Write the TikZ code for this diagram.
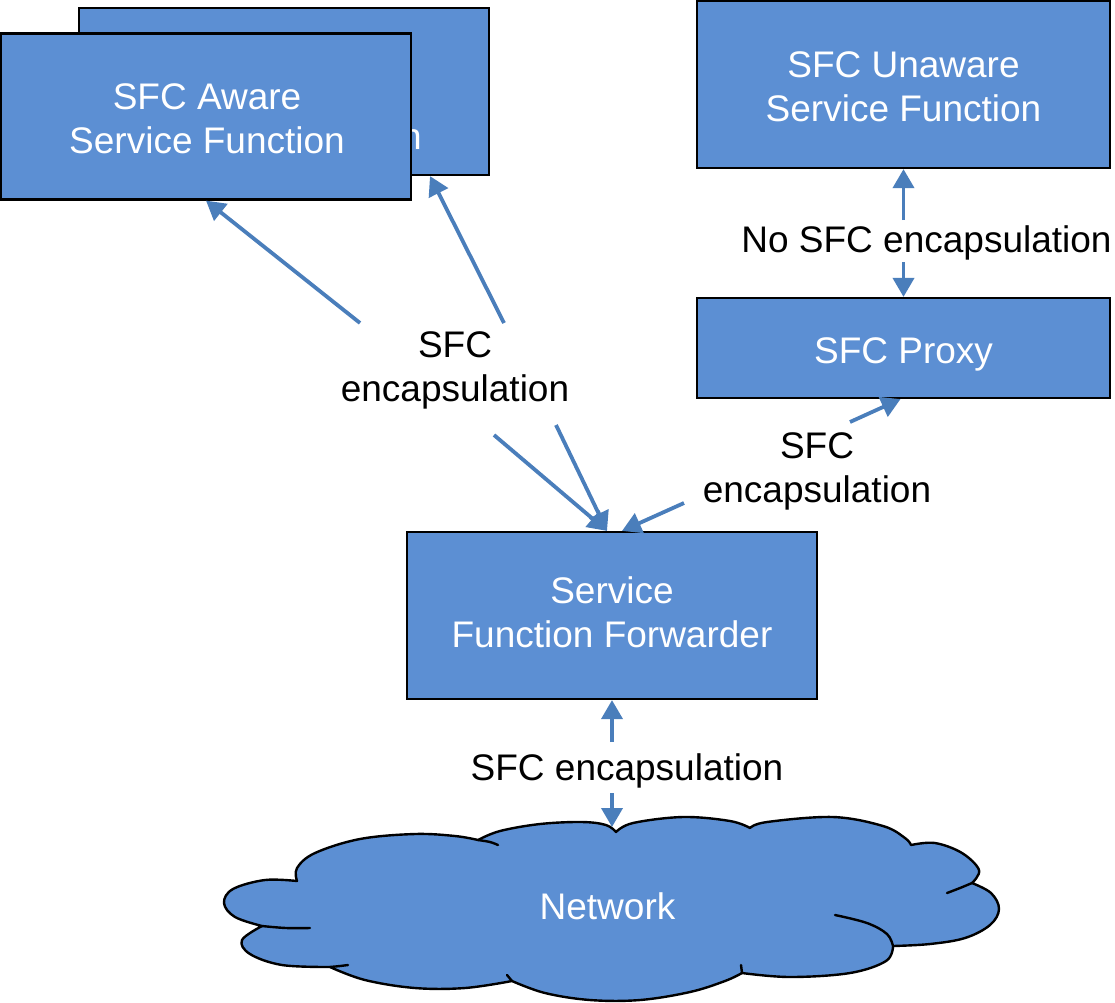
\documentclass[tikz,border=0pt]{standalone}
\usepackage{fontspec}
\setmainfont{Liberation Sans}
\usetikzlibrary{arrows.meta,calc}
\definecolor{boxblue}{RGB}{92,143,211}
\definecolor{arrowblue}{RGB}{74,126,187}
\tikzset{
  txt/.style={font=\fontsize{37}{44}\selectfont, align=center, inner sep=0pt},
  sfbox/.style={draw=black, line width=2.2pt, fill=boxblue, inner sep=0pt},
  lbl/.style={txt, text=black},
  wlbl/.style={txt, text=white},
  conn/.style={draw=arrowblue, line width=3.8pt, -{Triangle[width=21pt,length=19pt]}},
  cloudline/.style={draw=black, line width=2.4pt, line join=round, line cap=round},
}
\begin{document}
\begin{tikzpicture}[x=1pt,y=-1pt]
\useasboundingbox (0,0) rectangle (1115,1002);

% back box (partly hidden)
\node[sfbox, minimum width=410pt, minimum height=167pt] (back) at (284,91.5) {};
\node[wlbl] (backtext) at (284,115) {SFC Aware\\Service Function};
% front box
\node[sfbox, minimum width=410pt, minimum height=166pt] (front) at (206,116.5) {};
\node[wlbl] (fronttext) at (207,119) {SFC Aware\\Service Function};

% right column
\node[sfbox, minimum width=413pt, minimum height=167pt] (unaware) at (903.5,84.5) {};
\node[wlbl] (unawaretext) at (903.5,86.5) {SFC Unaware\\Service Function};
\node[sfbox, minimum width=413pt, minimum height=100pt] (proxy) at (903.5,348) {};
\node[wlbl] (proxytext) at (903.5,354) {SFC Proxy};

% forwarder
\node[sfbox, minimum width=410pt, minimum height=167pt] (sff) at (612,615.5) {};
\node[wlbl] (sfftext) at (612,612.5) {Service\\Function Forwarder};

% cloud
\path[fill=boxblue, cloudline]
  plot[smooth,tension=0.6] coordinates {(297,881) (297,868) (315,853) (360,839) (415,834) (455,836) (478,840)}
  -- plot[smooth,tension=0.6] coordinates {(478,840) (500,831) (540,824) (582,822) (606,825) (616,832)}
  -- plot[smooth,tension=0.6] coordinates {(616,832) (633,823) (683,817) (730,821) (750,828)}
  -- plot[smooth,tension=0.6] coordinates {(750,828) (767,822) (833,817) (883,826) (905,838) (911,845)}
  -- plot[smooth,tension=0.6] coordinates {(911,845) (935,843) (962,853) (979,870) (972,883)}
  -- plot[smooth,tension=0.6] coordinates {(972,883) (991,893) (999,909) (990,925) (965,938) (930,944) (893,946)}
  -- plot[smooth,tension=0.6] coordinates {(893,946) (886,961) (850,973) (790,977) (742,973)}
  -- plot[smooth,tension=0.6] coordinates {(742,973) (725,981) (690,992) (640,1000) (590,1000) (545,993) (512,981)}
  -- plot[smooth,tension=0.6] coordinates {(512,981) (465,988) (415,988) (365,980) (330,967)}
  -- plot[smooth,tension=0.6] coordinates {(330,967) (282,965) (250,954) (242,940) (262,926)}
  -- plot[smooth,tension=0.6] coordinates {(262,926) (235,917) (224,903) (233,889) (265,880) (297,881)}
  -- cycle;
% inner strokes of the cloud
\draw[cloudline] plot[smooth,tension=0.6] coordinates {(262,926) (286,928) (310,928)};
\draw[cloudline] plot[smooth,tension=0.6] coordinates {(330,967) (340,966) (348,965)};
\draw[cloudline] plot[smooth,tension=0.6] coordinates {(478,840) (490,842) (498,845)};
\draw[cloudline] plot[smooth,tension=0.6] coordinates {(507,975) (512,981)};
\draw[cloudline] plot[smooth,tension=0.6] coordinates {(972,883) (960,888) (947,893)};
\draw[cloudline] plot[smooth,tension=0.6] coordinates {(835,915) (867,923) (887,934) (893,946)};
\draw[cloudline] plot[smooth,tension=0.6] coordinates {(741,965) (742,973)};
\node[wlbl] (net) at (607.5,906.5) {Network};

% labels
\node[lbl] (l1) at (455,370) {SFC\\encapsulation};
\node[lbl] (l2) at (817,471) {SFC\\encapsulation};
\node[lbl] (l3) at (926.5,243) {No SFC encapsulation};
\node[lbl] (l4) at (627,771) {SFC encapsulation};

% connector end points
\coordinate (a1) at (360,323);
\coordinate (a2) at (504,323);
\coordinate (a3) at (494,435);
\coordinate (a4) at (556,425);
\coordinate (a5) at (684,503);
\coordinate (a6) at (850,422);
\coordinate (a7) at (903.5,220);
\coordinate (a8) at (903.5,262);
\coordinate (a9) at (612,742);
\coordinate (a10) at (612,793);
\coordinate (nettop) at (612,827);

\draw[conn] (a1) -- (front.south);
\draw[conn] (a2) -- ([xshift=146pt]back.south);
\draw[conn] (a3) -- ([xshift=-5pt]sff.north);
\draw[conn] (a4) -- ([xshift=-5pt]sff.north);
\draw[conn] (a5) -- ([xshift=10pt]sff.north);
\draw[conn] (a6) -- ([xshift=-3pt]proxy.south);
\draw[conn] (a7) -- (unaware.south);
\draw[conn] (a8) -- (proxy.north);
\draw[conn] (a9) -- (sff.south);
\draw[conn] (a10) -- (nettop);
\end{tikzpicture}
\end{document}
